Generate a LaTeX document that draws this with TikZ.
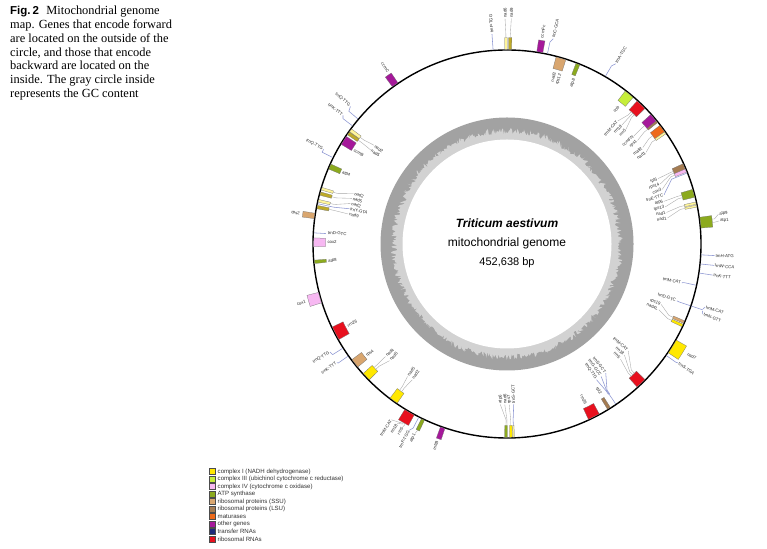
\documentclass[tikz,border=0pt]{standalone}
\usepackage{fontspec}
\setmainfont{Liberation Serif}
\setsansfont{Liberation Sans}
\newfontfamily\labfont{Liberation Sans}
\definecolor{cI}{HTML}{FFE800}
\definecolor{cIII}{HTML}{C6EE3A}
\definecolor{cIV}{HTML}{F7B8F2}
\definecolor{catp}{HTML}{8CAA1E}
\definecolor{cssu}{HTML}{D9A66F}
\definecolor{clsu}{HTML}{A57C52}
\definecolor{cmat}{HTML}{EE6A1A}
\definecolor{coth}{HTML}{A5189A}
\definecolor{ctrna}{HTML}{1F2A7A}
\definecolor{crrna}{HTML}{E8101E}
\definecolor{pyel}{HTML}{FFF59A}
\definecolor{dyel}{HTML}{BEAA28}
\definecolor{gcd}{HTML}{A2A2A2}
\definecolor{gcl}{HTML}{D2D2D2}
\definecolor{tcol}{HTML}{8C96D2}
\tikzset{
  gbox/.style={draw=black!55, line width=0.25pt},
  conn/.style={draw=black!35, line width=0.35pt},
  tline/.style={draw=tcol, line width=0.55pt},
  lbl/.style={font=\labfont\fontsize{4.3}{4.6}\selectfont, inner sep=0.3pt, text=black!85},
  capline/.style={font=\fontsize{12.4}{13.7}\selectfont, anchor=base west, inner sep=0pt},
  legbox/.style={draw=black!70, line width=0.4pt, minimum width=6pt, minimum height=6pt, inner sep=0pt},
  legtxt/.style={font=\labfont\fontsize{6.1}{7}\selectfont, anchor=west, inner sep=0pt, text=black!80}
}
% gene box: angle, half width (deg), r1, r2, colour
\newcommand\gn[5]{\filldraw[gbox,fill=#5] (#1-#2:#3) arc[start angle={#1-#2}, end angle={#1+#2}, radius=#3] -- (#1+#2:#4) arc[start angle={#1+#2}, end angle={#1-#2}, radius=#4] -- cycle;}
\newcommand\og[3]{\gn{#1}{#2}{194.7}{206.5}{#3}}
\newcommand\ig[3]{\gn{#1}{#2}{181.5}{193.3}{#3}}
\newcommand\otr[1]{\draw[tline] (#1:194.7) -- (#1:206.5);}
\newcommand\itr[1]{\draw[tline] (#1:181.5) -- (#1:193.3);}
% outside label: name, angle, radius, text
\newcommand\olab[4]{%
  \pgfmathsetmacro\la{mod(#2+720,360)}%
  \pgfmathtruncatemacro\fl{and(\la>96,\la<264)}%
  \coordinate (#1p) at (\la:#3-0.6);%
  \ifnum\fl=1 \node[lbl,anchor=east,rotate=\la-180] (#1) at (\la:#3) {#4};%
  \else \node[lbl,anchor=west,rotate=\la] (#1) at (\la:#3) {#4};\fi}
% inside label
\newcommand\ilab[4]{%
  \pgfmathsetmacro\la{mod(#2+720,360)}%
  \pgfmathtruncatemacro\fl{and(\la>90,\la<276)}%
  \coordinate (#1p) at (\la:#3+0.6);%
  \ifnum\fl=1 \node[lbl,anchor=west,rotate=\la-180] (#1) at (\la:#3) {#4};%
  \else \node[lbl,anchor=east,rotate=\la] (#1) at (\la:#3) {#4};\fi}
% connector: [style] gene angle, r0, r1, label name
\newcommand\cn[5][conn]{\draw[#1] (#2:#3) -- (#2:#4) -- (#5p);}
\begin{document}
\begin{tikzpicture}[x=1pt,y=1pt]
\useasboundingbox (0,0) rectangle (767,548);
\fill[white] (0,0) rectangle (767,548);
% caption
\node[capline] (cap1) at (10,533) {{\labfont\bfseries\fontsize{11.5}{13}\selectfont Fig.\,2}\hspace{0.6em}Mitochondrial genome};
\node[capline] (cap2) at (10,519.3) {map. Genes that encode forward};
\node[capline] (cap3) at (10,505.6) {are located on the outside of the};
\node[capline] (cap4) at (10,491.9) {circle, and those that encode};
\node[capline] (cap5) at (10,478.2) {backward are located on the};
\node[capline] (cap6) at (10,464.5) {inside. The gray circle inside};
\node[capline] (cap7) at (10,450.8) {represents the GC content};
% legend
\foreach \c/\t [count=\i from 0] in {cI/complex I (NADH dehydrogenase), cIII/complex III (ubichinol cytochrome c reductase), cIV/complex IV (cytochrome c oxidase), catp/ATP synthase, cssu/ribosomal proteins (SSU), clsu/ribosomal proteins (LSU), cmat/maturases, coth/other genes, ctrna/transfer RNAs, crrna/ribosomal RNAs}{
  \node[legbox, fill=\c] (lb\i) at (212.5,{76.3-7.48*\i}) {};
  \node[legtxt] (lt\i) at (217.5,{76.3-7.48*\i}) {\t};
}
\begin{scope}[shift={(507,304)}]
  % GC content
  \fill[gcd] (0,0) circle[radius=126.5];
  \pgfmathsetseed{11}
  \fill[gcl] plot[samples=720, domain=0:360, variable=\t] (\t:{109.5+7*rnd}) -- cycle;
  \fill[white] (0,0) circle[radius=104.5];
  \node[font=\labfont\bfseries\itshape\fontsize{12}{14}\selectfont] (ttl) at (0,21) {Triticum aestivum};
  \node[font=\labfont\fontsize{12}{14}\selectfont] (tt2) at (0,1) {mitochondrial genome};
  \node[font=\labfont\fontsize{11}{14}\selectfont] (tt3) at (0,-19) {452,638 bp};
  % genome circle
  \draw[line width=1.4pt] (0,0) circle[radius=194];
  % ---- top
  \otr{94.1} \olab{a1}{94.1}{211}{trnP-TGG} \cn[tline]{94.1}{206.5}{206.5}{a1}
  \og{90.3}{0.35}{pyel} \og{89.1}{0.45}{dyel}
  \olab{a2}{90.5}{226}{nad6} \olab{a3}{88.9}{226}{nad9}
  \cn{90.3}{206.5}{209}{a2} \cn{89.1}{206.5}{209}{a3}
  \og{80.3}{0.9}{coth} \olab{a4}{80.4}{208.5}{ccmFc}
  \otr{78.0} \olab{a5}{77.3}{211}{trnC-GCA} \cn[tline]{78}{206.5}{206.5}{a5}
  \ig{73.8}{1.5}{cssu} \ilab{b1}{74.5}{178.5}{nad3} \ilab{b2}{72.6}{178.5}{rps12}
  \ig{68.5}{0.6}{catp} \ilab{b3}{67.8}{178.5}{atp8}
  \otr{59.6} \olab{a6}{58.9}{211}{trnA-TGC} \cn[tline]{59.6}{206.5}{206.5}{a6}
  % ---- upper right, inside
  \ig{50.8}{1.5}{cIII} \ilab{b4}{51.0}{177.5}{cob}
  \ig{46.1}{1.6}{crrna}
  \ilab{b5}{48.0}{165}{trnM-CAT} \ilab{b6}{46.0}{165}{rrn18} \ilab{b7}{44.0}{165}{rrn5}
  \cn{46.8}{181.5}{177}{b5} \cn{46.1}{181.5}{177}{b6} \cn{45.4}{181.5}{177}{b7}
  \ig{40.7}{1.3}{coth} \ig{39.2}{0.3}{clsu}
  \ilab{b8}{40.4}{166}{ccmFN} \ilab{b9}{38.4}{166}{rps1}
  \cn{40.7}{181.5}{177}{b8} \cn{39.2}{181.5}{177}{b9}
  \ig{36.6}{1.2}{cmat} \ig{35.1}{0.35}{pyel}
  \ilab{b10}{35.4}{166}{matR} \ilab{b11}{33.4}{166}{nad1}
  \cn{36.6}{181.5}{177}{b10} \cn{35.1}{181.5}{177}{b11}
  \ig{23.6}{0.9}{clsu} \ig{22.3}{0.5}{cIV} \itr{21.5}
  \ilab{b12}{23.4}{164}{rpl5} \ilab{b13}{21.4}{164}{rps14} \ilab{b14}{19.4}{164}{cox3} \ilab{b15}{17.4}{164}{trnE-TTC}
  \cn{23.6}{181.5}{177}{b12} \cn{23.0}{181.5}{177}{b13} \cn{22.3}{181.5}{177}{b14} \cn[tline]{21.5}{181.5}{177}{b15}
  \ig{15.2}{1.2}{catp} \ig{12.2}{0.35}{pyel} \ig{11.3}{0.3}{pyel}
  \ilab{b16}{15.2}{162}{atp6} \ilab{b17}{13.2}{162}{rps13} \ilab{b18}{11.2}{162}{nad1} \ilab{b19}{9.2}{162}{nad1}
  \cn{15.6}{181.5}{177}{b16} \cn{14.8}{181.5}{177}{b17} \cn{12.2}{181.5}{177}{b18} \cn{11.3}{181.5}{177}{b19}
  % ---- right, outside
  \og{6.3}{1.6}{catp} \olab{a7}{8.0}{214}{atp9} \olab{a8}{6.2}{214}{atp1}
  \cn{6.9}{206.5}{209}{a7} \cn{6.0}{206.5}{209}{a8}
  \otr{-3.2} \olab{a9}{-3.2}{208.5}{trnH-ATG} \cn[tline]{-3.2}{206.5}{206.5}{a9}
  \otr{-5.9} \olab{a10}{-5.9}{208.5}{trnW-CCA} \cn[tline]{-5.9}{206.5}{206.5}{a10}
  \otr{-8.6} \olab{a11}{-8.6}{208.5}{trnK-TTT} \cn[tline]{-8.6}{206.5}{206.5}{a11}
  \itr{-12.3} \ilab{b20}{-12.5}{178.5}{trnM-CAT} \cn[tline]{-12.3}{181.5}{181.5}{b20}
  \itr{-18.6} \ilab{b21}{-18.5}{178.5}{trnD-GTC} \cn[tline]{-18.6}{181.5}{181.5}{b21}
  \otr{-18.6} \olab{a12}{-17.7}{208.5}{trnM-CAT} \olab{a13}{-19.7}{208.5}{trnN-GTT}
  \cn[tline]{-18.3}{206.5}{206.5}{a12} \cn[tline]{-18.9}{206.5}{206.5}{a13}
  \ig{-23.8}{0.4}{cssu} \ig{-24.9}{0.4}{cI}
  \ilab{b22}{-21.4}{165}{rps19} \ilab{b23}{-23.4}{165}{nad4L}
  \cn{-23.8}{181.5}{177}{b22} \cn{-24.9}{181.5}{177}{b23}
  \og{-31.8}{2.2}{cI} \olab{a14}{-31.3}{211}{nad7}
  \otr{-35.0} \olab{a15}{-34.8}{209}{trnS-TGA} \cn[tline]{-35}{206.5}{206.5}{a15}
  % ---- lower right, inside
  \ig{-46.1}{1.6}{crrna}
  \ilab{b24}{-41.4}{161}{trnM-CAT} \ilab{b25}{-43.4}{161}{rrn18} \ilab{b26}{-45.4}{161}{rrn5}
  \cn{-45.4}{181.5}{177}{b24} \cn{-46.1}{181.5}{177}{b25} \cn{-46.8}{181.5}{177}{b26}
  \itr{-55.8}
  \ilab{b27}{-52.6}{162}{trnS-GCT} \ilab{b28}{-54.6}{162}{trnG-GCC} \ilab{b29}{-56.6}{162}{trnQ-TTG}
  \cn[tline]{-55.6}{181.5}{177}{b27} \cn[tline]{-55.8}{181.5}{177}{b28} \cn[tline]{-56.0}{181.5}{177}{b29}
  \ig{-58.2}{0.5}{clsu} \ilab{b30}{-58.0}{177}{rpl2}
  \ig{-63.3}{1.8}{crrna} \ilab{b31}{-63.8}{179}{rrn26}
  % ---- bottom, inside
  \ig{-90.3}{0.4}{catp} \ig{-88.8}{0.4}{cI} \ig{-88.0}{0.2}{pyel}
  \ilab{b32}{-92.4}{160}{atp6} \ilab{b33}{-90.8}{160}{nad6} \ilab{b34}{-89.2}{160}{rps7} \ilab{b35}{-87.6}{160}{trnS-GCT}
  \cn{-90.3}{181.5}{176}{b32} \cn{-90.0}{181.5}{176}{b33} \cn{-88.8}{181.5}{176}{b34} \cn[tline]{-88.0}{181.5}{176}{b35}
  % ---- lower left, outside
  \og{-109.3}{0.7}{coth} \olab{a16}{-109.5}{209}{mttB}
  \og{-115.6}{0.5}{catp} \otr{-117}
  \olab{a17}{-115.9}{211}{atp1} \olab{a18}{-117.7}{211}{trnP-TGG}
  \cn{-115.6}{206.5}{206.5}{a17} \cn[tline]{-117}{206.5}{206.5}{a18}
  \og{-120.1}{1.6}{crrna}
  \olab{a19}{-123.3}{211}{trnM-CAT} \olab{a20}{-121.5}{211}{rrn18} \olab{a21}{-119.7}{211}{rrn5}
  \cn{-120.7}{206.5}{208}{a19} \cn{-120.1}{206.5}{208}{a20} \cn{-119.5}{206.5}{208}{a21}
  % ---- lower left, inside
  \ig{-125.9}{1.3}{cI} \ilab{b36}{235.1}{165}{nad2} \ilab{b37}{233.1}{165}{nad5}
  \cn{-125.5}{181.5}{177}{b36} \cn{-126.3}{181.5}{177}{b37}
  \ig{-136.7}{1.3}{cI} \ilab{b38}{224.8}{165}{nad5} \ilab{b39}{222.8}{165}{nad4}
  \cn{-136.3}{181.5}{177}{b38} \cn{-137.1}{181.5}{177}{b39}
  % ---- left
  \ig{218.1}{1.4}{cssu} \ilab{c1}{218.6}{180}{rps4}
  \otr{215.2} \olab{d1}{214.9}{208}{trnK-TTT} \cn[tline]{215.2}{206.5}{206.5}{d1}
  \otr{212.4} \olab{d2}{211.4}{208}{trnQ-TTG} \cn[tline]{212.4}{206.5}{206.5}{d2}
  \ig{207.5}{2.1}{crrna} \ilab{c2}{207.2}{179.5}{rrn26}
  \og{196}{1.6}{cIV} \olab{d3}{196}{209}{cox1}
  \ig{185.3}{0.5}{catp} \ilab{c3}{185.5}{180}{atp8}
  \ig{179.5}{1.3}{cIV} \ilab{c4}{179.4}{180}{cox2}
  \itr{176.7} \ilab{c5}{176.4}{180}{trnD-GTC}
  \og{171.7}{0.8}{cssu} \olab{d4}{171.7}{209}{rps2}
  \ig{163.4}{0.4}{pyel} \ig{164.9}{0.5}{dyel} \ig{167.1}{0.4}{pyel} \itr{168.0} \ig{169.0}{0.5}{dyel}
  \ilab{c6}{161.7}{161}{nad2} \ilab{c7}{163.6}{161}{nad5} \ilab{c8}{165.5}{161}{nad2} \ilab{c9}{167.4}{161}{trnY-GTA} \ilab{c10}{169.3}{161}{nad9}
  \cn{163.4}{181.5}{177}{c6} \cn{164.9}{181.5}{177}{c7} \cn{167.1}{181.5}{177}{c8} \cn[tline]{168.0}{181.5}{177}{c9} \cn{169.0}{181.5}{177}{c10}
  \ig{156.4}{0.8}{catp} \ilab{c11}{156.5}{180}{atp4}
  \otr{153.6} \olab{d5}{152.7}{207}{trnQ-TTG} \cn[tline]{153.6}{206.5}{206.5}{d5}
  \ig{147.6}{1.4}{coth} \ilab{c12}{148.4}{180}{ccmB}
  \ig{144.0}{0.5}{pyel} \ig{145.1}{0.5}{dyel}
  \ilab{c13}{143.4}{165}{nad2} \ilab{c14}{145.4}{165}{nad5}
  \cn{144.0}{181.5}{177}{c13} \cn{145.1}{181.5}{177}{c14}
  \otr{140.0} \otr{142.6}
  \olab{d6}{138.7}{209}{trnQ-TTG} \olab{d7}{141.9}{209}{trnK-TTT}
  \cn[tline]{140.0}{206.5}{206.5}{d6} \cn[tline]{142.6}{206.5}{206.5}{d7}
  \og{125.1}{1.0}{coth} \olab{d8}{124.6}{208.5}{ccmC}
\end{scope}
\end{tikzpicture}
\end{document}
